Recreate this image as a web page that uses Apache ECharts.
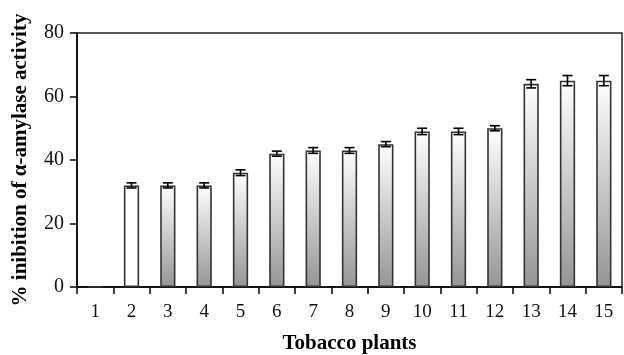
<!DOCTYPE html>
<html><head><meta charset="utf-8">
<script src="https://cdn.jsdelivr.net/npm/echarts@6/dist/echarts.min.js"></script>
<style>html,body{margin:0;padding:0;background:#fff}#c{width:624px;height:355px}</style>
</head><body><div id="c"></div>
<script>
const categories = ['1','2','3','4','5','6','7','8','9','10','11','12','13','14','15'];
const values = [0, 32, 32, 32, 36, 42, 43, 43, 45, 49, 49, 50, 64, 65, 65];
const errors = [0, 0.8, 0.8, 0.8, 0.9, 0.8, 0.9, 0.9, 0.8, 1.0, 1.0, 0.8, 1.3, 1.6, 1.6];
const yTicks = [0, 20, 40, 60, 80];
const xTitle = 'Tobacco plants';
const yTitle = '% inibition of α-amylase activity';

const font = '"Liberation Serif", "DejaVu Serif", serif';
const grad = {type:'linear',x:0,y:0,x2:0,y2:1,colorStops:[{offset:0,color:'#ffffff'},{offset:1,color:'#959595'}]};
const barData = values.map((v,i)=>({value:v,itemStyle:{color: i===1 ? '#ffffff' : grad}}));
const errData = values.map((v,i)=>[i, v, errors[i]]);

const chart = echarts.init(document.getElementById('c'), null, {renderer:'canvas'});
chart.setOption({
  animation:false,
  grid:{left:77,right:2,top:33,bottom:68,containLabel:false,outerBoundsMode:'none',show:true,borderColor:'#222',borderWidth:1.5,backgroundColor:'transparent'},
  xAxis:{
    type:'category', data:categories,
    name:xTitle, nameLocation:'middle', nameGap:46,
    nameTextStyle:{fontFamily:font,fontWeight:'bold',fontSize:21,color:'#000'},
    axisLine:{lineStyle:{color:'#000',width:1.5}},
    axisTick:{show:true,alignWithLabel:false,length:7,lineStyle:{color:'#000',width:1.5}},
    axisLabel:{fontFamily:font,fontSize:19,color:'#111',margin:16}
  },
  yAxis:{
    type:'value', min:yTicks[0], max:yTicks[yTicks.length-1], interval:20,
    name:yTitle, nameLocation:'middle', nameGap:46,
    nameTextStyle:{fontFamily:font,fontWeight:'bold',fontSize:21,color:'#000'},
    axisLine:{show:true,lineStyle:{color:'#000',width:1.5}},
    axisTick:{show:true,length:7,lineStyle:{color:'#000',width:1.5}},
    axisLabel:{fontFamily:font,fontSize:20,color:'#111',margin:13},
    splitLine:{show:false}
  },
  series:[
    {type:'bar', data:barData, barWidth:'42%',
     itemStyle:{borderColor:'#333',borderWidth:1.6}},
    {type:'custom', data:errData, z:10,
     renderItem:function(params, api){
       const i = api.value(0), v = api.value(1), e = api.value(2);
       if (!e) return null;
       const top = api.coord([i, v+e]), bot = api.coord([i, v-e]);
       const hw = 5;
       const st = {stroke:'#000',lineWidth:1.6};
       return {type:'group',children:[
         {type:'line',shape:{x1:top[0],y1:top[1],x2:bot[0],y2:bot[1]},style:st},
         {type:'line',shape:{x1:top[0]-hw,y1:top[1],x2:top[0]+hw,y2:top[1]},style:st},
         {type:'line',shape:{x1:bot[0]-hw,y1:bot[1],x2:bot[0]+hw,y2:bot[1]},style:st}
       ]};
     }}
  ]
});
</script></body></html>
